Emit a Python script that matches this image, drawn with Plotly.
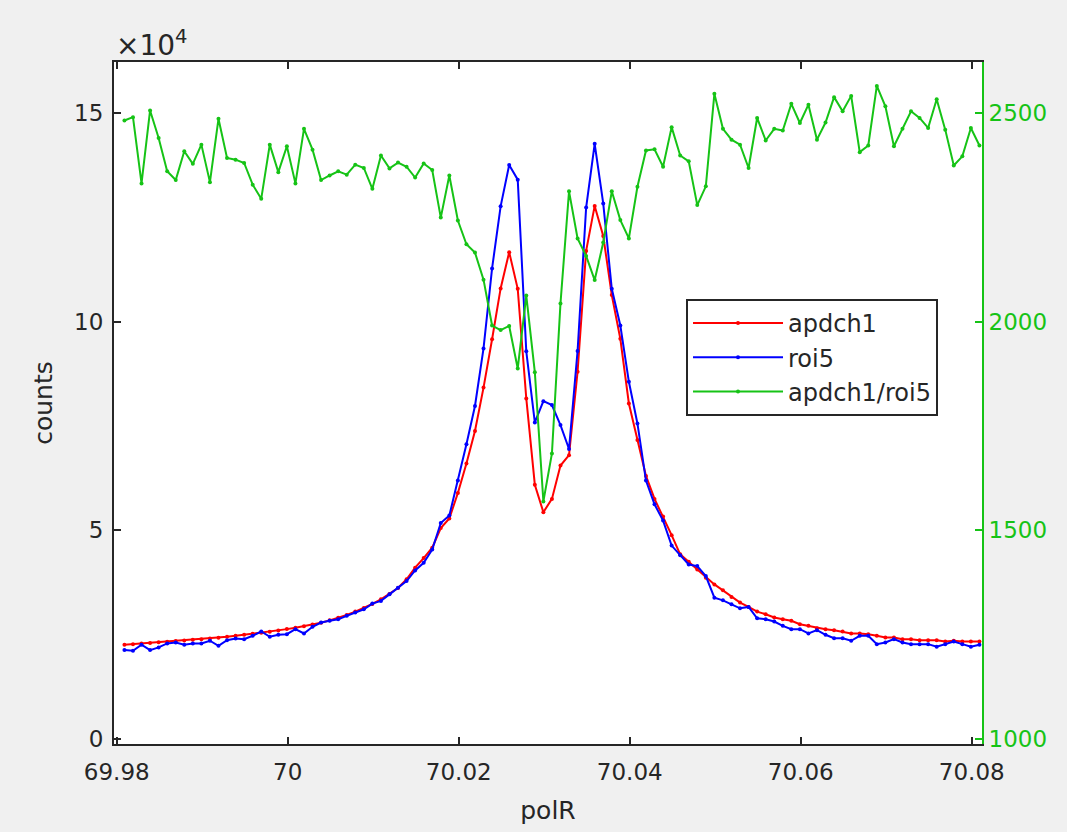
import plotly.graph_objects as go

# Scan positions (polR) and detector readings
polR = [69.9809, 69.9819, 69.9829, 69.9839, 69.9849, 69.9859, 69.9869, 69.9879, 69.9889, 69.9899,
        69.9909, 69.9919, 69.9929, 69.9939, 69.9949, 69.9959, 69.9969, 69.9979, 69.9989, 69.9999,
        70.0009, 70.0019, 70.0029, 70.0039, 70.0049, 70.0059, 70.0069, 70.0079, 70.0089, 70.0099,
        70.0109, 70.0119, 70.0129, 70.0139, 70.0149, 70.0159, 70.0169, 70.0179, 70.0189, 70.0199,
        70.0209, 70.0219, 70.0229, 70.0239, 70.0249, 70.0259, 70.0269, 70.0279, 70.0289, 70.0299,
        70.0309, 70.0319, 70.0329, 70.0339, 70.0349, 70.0359, 70.0369, 70.0379, 70.0389, 70.0399,
        70.0409, 70.0419, 70.0429, 70.0439, 70.0449, 70.0459, 70.0469, 70.0479, 70.0489, 70.0499,
        70.0509, 70.0519, 70.0529, 70.0539, 70.0549, 70.0559, 70.0569, 70.0579, 70.0589, 70.0599,
        70.0609, 70.0619, 70.0629, 70.0639, 70.0649, 70.0659, 70.0669, 70.0679, 70.0689, 70.0699,
        70.0709, 70.0719, 70.0729, 70.0739, 70.0749, 70.0759, 70.0769, 70.0779, 70.0789, 70.0799,
        70.0809]

apdch1 = [22500, 22650, 22800, 22950, 23100, 23250, 23400, 23550, 23700, 23850,
          24000, 24200, 24400, 24650, 24900, 25150, 25400, 25650, 25950, 26250,
          26600, 26950, 27350, 27800, 28350, 28950, 29650, 30450, 31300, 32300,
          33400, 34700, 36100, 38200, 41000, 43300, 45800, 50500, 52800, 58900,
          66000, 73800, 84200, 95800, 108000, 116700, 107900, 81600, 60900, 54300,
          57500, 65500, 68000, 88000, 117000, 127800, 120600, 106400, 95900, 80400,
          71600, 63000, 57500, 53300, 48800, 44200, 42400, 40560, 38580, 36980,
          35550, 33970, 32610, 31580, 30460, 29820, 29030, 28620, 28240, 27430,
          27040, 26470, 26230, 25990, 25680, 25200, 25200, 25040, 24650, 24250,
          24250, 23840, 23840, 23600, 23600, 23600, 23290, 23460, 23290, 23290,
          23290]

roi5 = [21220, 21070, 22500, 21220, 21860, 22810, 23050, 22500, 22810, 22810,
        23460, 22260, 23600, 24010, 23840, 24650, 25680, 24410, 24890, 25040,
        26230, 25200, 26800, 27830, 28240, 28620, 29430, 30220, 31010, 32370,
        33020, 34590, 36200, 37790, 40330, 42170, 45340, 51720, 53500, 61900,
        70600, 79800, 93600, 112800, 127700, 137600, 134100, 92900, 75850, 80940,
        80000, 75200, 69470, 93000, 127400, 142700, 128400, 107900, 99100, 85600,
        75600, 61900, 56200, 52300, 46300, 44000, 41760, 41380, 38990, 33800,
        33160, 32200, 31250, 31580, 28860, 28620, 28070, 27040, 26230, 26230,
        25200, 26000, 24890, 24080, 24080, 23460, 24650, 24650, 22650, 23050,
        23840, 23050, 22650, 22650, 22650, 22030, 22650, 23290, 22650, 22030,
        22500]

ratio = [2483, 2491, 2332, 2507, 2441, 2361, 2340, 2409, 2379, 2425,
         2335, 2487, 2393, 2389, 2381, 2329, 2295, 2425, 2359, 2421,
         2332, 2463, 2413, 2340, 2351, 2361, 2353, 2377, 2369, 2319,
         2399, 2368, 2382, 2372, 2346, 2380, 2364, 2250, 2351, 2243,
         2186, 2166, 2101, 1991, 1980, 1990, 1888, 2063, 1879, 1569,
         1684, 2044, 2313, 2200, 2158, 2100, 2190, 2313, 2244, 2200,
         2324, 2411, 2414, 2372, 2467, 2399, 2385, 2280, 2325, 2547,
         2463, 2437, 2425, 2369, 2489, 2435, 2463, 2459, 2523, 2477,
         2521, 2437, 2478, 2539, 2505, 2542, 2407, 2423, 2566, 2517,
         2421, 2463, 2505, 2489, 2465, 2534, 2461, 2375, 2397, 2465,
         2423]

x_ticks = [69.98, 70.0, 70.02, 70.04, 70.06, 70.08]
x_tick_text = ["69.98", "70", "70.02", "70.04", "70.06", "70.08"]
left_ticks = [0, 50000, 100000, 150000]
left_tick_text = ["0", "5", "10", "15"]
right_ticks = [1000, 1500, 2000, 2500]

AX = "#262626"
RED = "#ff0000"
BLUE = "#0000ff"
GREEN = "#16c316"
FONT = "DejaVu Sans"
TICK_SIZE = 23
LABEL_SIZE = 25

fig = go.Figure()
fig.add_trace(go.Scatter(x=polR, y=apdch1, name="apdch1", mode="lines+markers",
                         line=dict(color=RED, width=2), marker=dict(size=4, color=RED)))
fig.add_trace(go.Scatter(x=polR, y=roi5, name="roi5", mode="lines+markers",
                         line=dict(color=BLUE, width=2), marker=dict(size=4, color=BLUE)))
fig.add_trace(go.Scatter(x=polR, y=ratio, name="apdch1/roi5", mode="lines+markers", yaxis="y2",
                         line=dict(color=GREEN, width=2), marker=dict(size=4, color=GREEN)))

fig.update_layout(
    width=1067, height=832,
    margin=dict(l=114, r=85, t=62, b=85),
    paper_bgcolor="#f0f0f0",
    plot_bgcolor="white",
    font=dict(family=FONT, size=TICK_SIZE, color=AX),
    showlegend=True,
    legend=dict(x=0.659, y=0.6526, xanchor="left", yanchor="top",
                bgcolor="white", bordercolor=AX, borderwidth=2,
                font=dict(size=24, color=AX), itemwidth=90,
                tracegroupgap=0),
    xaxis=dict(range=[69.97968, 70.0812], tickvals=x_ticks, ticktext=x_tick_text,
               showgrid=False, zeroline=False, showline=True, linecolor=AX, linewidth=2,
               mirror="ticks", ticks="inside", ticklen=7, tickwidth=2, tickcolor=AX,
               tickfont=dict(size=TICK_SIZE, color=AX), ticklabelstandoff=6,
               title=dict(text="polR", font=dict(size=LABEL_SIZE, color=AX), standoff=18)),
    yaxis=dict(range=[-1314, 162330], tickvals=left_ticks, ticktext=left_tick_text,
               showgrid=False, zeroline=False, showline=True, linecolor=AX, linewidth=2,
               ticks="inside", ticklen=7, tickwidth=2, tickcolor=AX,
               tickfont=dict(size=TICK_SIZE, color=AX), ticklabelstandoff=4,
               title=dict(text="counts", font=dict(size=LABEL_SIZE, color=AX), standoff=14)),
    yaxis2=dict(range=[986.9, 2623.3], tickvals=right_ticks, overlaying="y", side="right",
                showgrid=False, zeroline=False, showline=True, linecolor=GREEN, linewidth=2,
                ticks="inside", ticklen=7, tickwidth=2, tickcolor=GREEN,
                tickfont=dict(size=TICK_SIZE, color=GREEN)),
    annotations=[dict(text="\u00d710<sup>4</sup>", xref="paper", yref="paper",
                      x=0.0, y=1.0, xanchor="left", yanchor="bottom", yshift=-2,
                      showarrow=False, font=dict(size=28, color=AX))],
)

fig.write_html("out.html")
